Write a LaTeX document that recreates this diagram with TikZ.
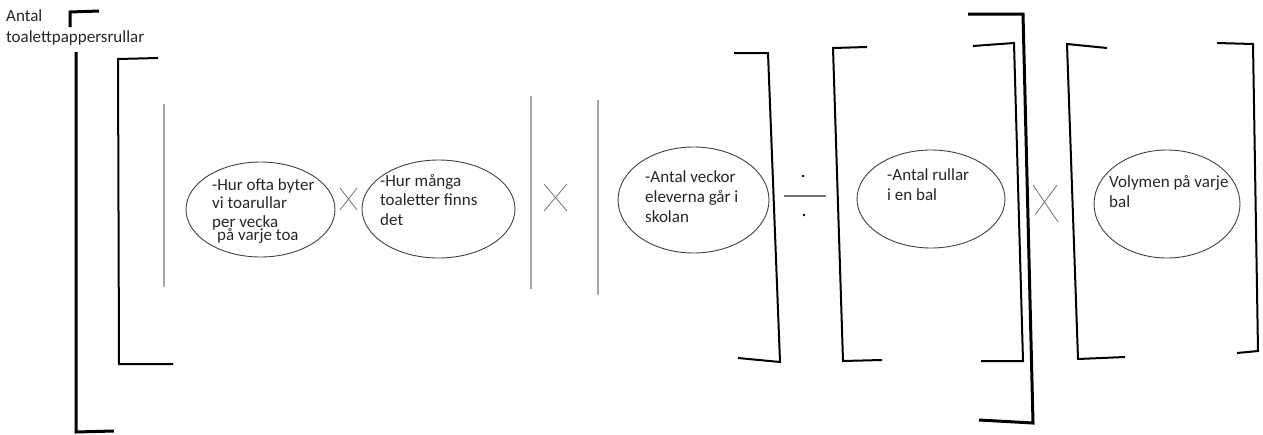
\documentclass[tikz,border=0pt]{standalone}
\usepackage{fontspec}
\setmainfont{Carlito}
\usetikzlibrary{shapes.geometric}
\tikzset{
  lbl/.style={anchor=base west, inner sep=0pt, align=left, font=\fontsize{17}{19.5}\selectfont, text=black!85},
  oval/.style={ellipse, draw=black!75, line width=0.9pt, inner sep=0pt},
  thickbr/.style={draw=black, line width=3pt},
  br/.style={draw=black, line width=2pt},
  grayline/.style={draw=black!35, line width=1.4pt},
  timesmark/.style={draw=black!55, line width=0.8pt},
}
\begin{document}
\begin{tikzpicture}[x=1pt,y=-1pt]
\useasboundingbox (0,0) rectangle (1263,434);
% title (anchor = baseline of last line)
\node[lbl, font=\fontsize{17}{21}\selectfont] (title) at (6,42) {Antal\\toalettpappersrullar};
% brackets
\draw[thickbr] (70,27) -- (70,12) -- (99,11);
\draw[thickbr] (76,52) -- (76,432) -- (114,431);
\draw[br] (158,58) -- (118,59) -- (119,364) -- (173,364);
\draw[br] (734,53) -- (768,53) -- (780,362) -- (738,358);
\draw[br] (867,47) -- (833,48) -- (843,361) -- (882,360);
\draw[br] (973,46) -- (1014,43) -- (1023,361) -- (981,361);
\draw[thickbr] (968,14) -- (1023,14) -- (1033,423) -- (979,420);
\draw[br] (1107,48) -- (1067,44) -- (1078,359) -- (1125,357);
\draw[br] (1217,43) -- (1253,44) -- (1258,351) -- (1237,353);
% gray vertical lines
\draw[grayline] (164,104) -- (164,287);
\draw[grayline] (531,96) -- (531,289);
\draw[grayline] (598,100) -- (598,295);
% ellipses
\node[oval, minimum width=149pt, minimum height=95pt] (e1) at (260.5,209.5) {};
\node[oval, minimum width=153pt, minimum height=98pt] (e2) at (438.5,209) {};
\node[oval, minimum width=151pt, minimum height=106pt] (e3) at (693.5,200) {};
\node[oval, minimum width=148pt, minimum height=98pt] (e4) at (931,199) {};
\node[oval, minimum width=146pt, minimum height=108pt] (e5) at (1167,204) {};
% texts (anchor = baseline of last line)
\node[lbl, font=\fontsize{17}{18.5}\selectfont] (t1) at (212,227) {-Hur ofta byter\\vi toarullar\\per vecka};
\node[lbl] (t1b) at (217,240) {på varje toa};
\node[lbl] (t2) at (380,225) {-Hur många\\toaletter finns\\det};
\node[lbl, font=\fontsize{17}{20}\selectfont] (t3) at (645,222) {-Antal veckor\\eleverna går i\\skolan};
\node[lbl, font=\fontsize{17}{20}\selectfont] (t4) at (887,200) {-Antal rullar\\i en bal};
\node[lbl] (t5) at (1109,207) {Volymen på varje\\bal};
% multiplication marks
\draw[timesmark] (340,188) -- (357,210) (357,188) -- (340,210);
\draw[timesmark] (544,184) -- (567,211) (567,184) -- (544,211);
\draw[timesmark] (1033,185) -- (1058,222) (1057,185) -- (1035,215);
% division
\fill[black] (803,176) circle (1.3pt);
\fill[black] (804,215) circle (1.3pt);
\draw[draw=black!55, line width=1.2pt] (784,196) -- (826,196);
\end{tikzpicture}
\end{document}
